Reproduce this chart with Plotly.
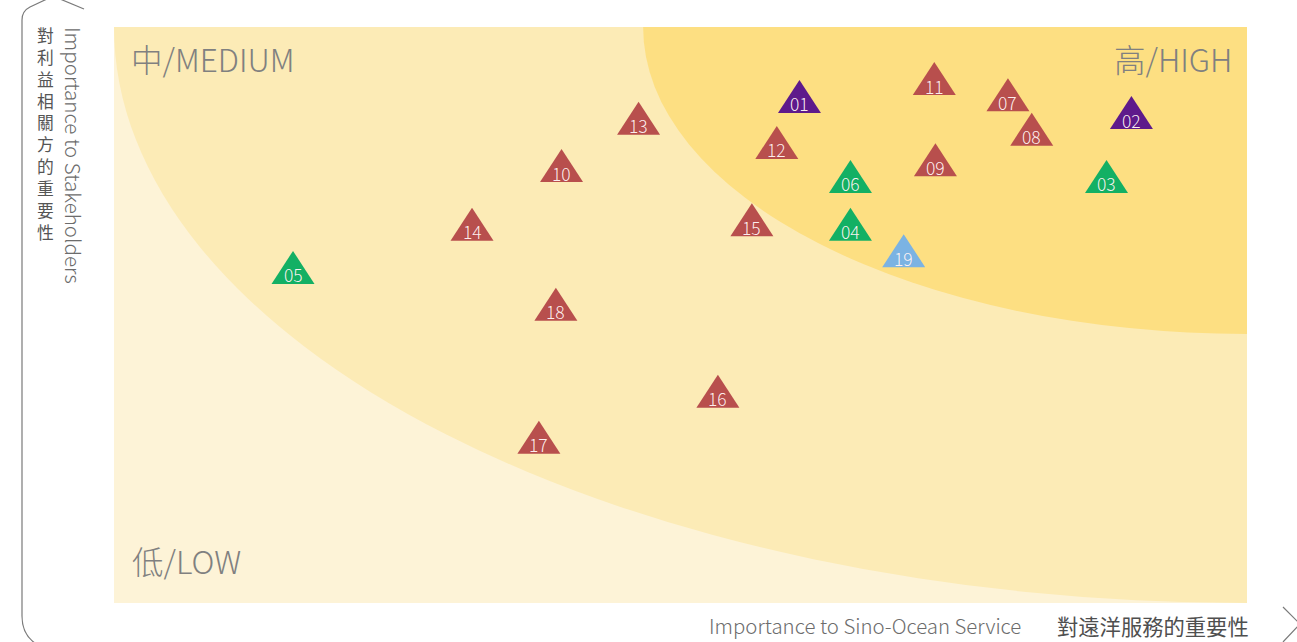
import plotly.graph_objects as go

# Materiality issues: id, importance to Sino-Ocean Service (x), importance to stakeholders (y)
issue_ids = ["01", "02", "03", "04", "05", "06", "07", "08", "09", "10",
             "11", "12", "13", "14", "15", "16", "17", "18", "19"]
service_importance = [6.05, 8.98, 8.76, 6.50, 1.58, 6.50, 7.89, 8.10, 7.25, 3.95,
                      7.24, 5.85, 4.63, 3.16, 5.63, 5.33, 3.75, 3.90, 6.97]
stakeholder_importance = [8.70, 8.42, 7.31, 6.48, 5.73, 7.31, 8.73, 8.13, 7.60, 7.50,
                          9.01, 7.90, 8.32, 6.48, 6.56, 3.58, 2.78, 5.09, 6.02]
issue_groups = ["purple", "purple", "green", "green", "green", "green", "red", "red", "red", "red",
                "red", "red", "red", "red", "red", "red", "red", "red", "blue"]

# Zone boundaries: quarter circles around the top-right corner (10, 10)
zone_names = ["高/HIGH", "中/MEDIUM", "低/LOW"]
zone_radii = [5.33, 10.0]

GROUP_COLORS = {"purple": "#5E1A8B", "green": "#13B064", "red": "#B84F4D", "blue": "#7BB3E3"}
ZONE_COLORS = {"low": "#FDF3D7", "medium": "#FCEBB6", "high": "#FDDF82"}

W, H = 1297, 642
L, R, T, B = 114, 50, 27, 39
PW, PH = W - L - R, H - T - B


def fx(px):
    return (px - L) / PW


def fy(py):
    return (H - B - py) / PH


FONT = "Noto Sans CJK SC, Noto Sans, sans-serif"
fig = go.Figure()

shapes = []
# medium and high zones, clipped by the plot area
for r, key in zip([zone_radii[1], zone_radii[0]], ["medium", "high"]):
    shapes.append(dict(type="circle", xref="x", yref="y",
                       x0=10 - r, x1=10 + r, y0=10 - r, y1=10 + r,
                       fillcolor=ZONE_COLORS[key], line=dict(width=0), layer="below"))

# triangle markers anchored at each issue position
tri_path = "M -21.5,-11 L 21.5,-11 L 0,22 Z"
for xv, yv, g in zip(service_importance, stakeholder_importance, issue_groups):
    shapes.append(dict(type="path", xref="x", yref="y", xsizemode="pixel", ysizemode="pixel",
                       xanchor=xv, yanchor=yv, path=tri_path,
                       fillcolor=GROUP_COLORS[g], line=dict(width=0), layer="below"))

# axis bracket with arrow heads
line_style = dict(color="#7a7a7a", width=1.2)


def pt(px, py):
    return f"{fx(px):.5f},{fy(py):.5f}"


bracket = (f"M {pt(47, -1)} L {pt(30, 7)} Q {pt(22, 11)} {pt(22, 20)} "
           f"L {pt(22, 616)} Q {pt(22, 636)} {pt(38, 645)} L {pt(1280, 645)}")
shapes.append(dict(type="path", xref="paper", yref="paper", path=bracket, line=line_style))
shapes.append(dict(type="path", xref="paper", yref="paper",
                   path=f"M {pt(60, -1)} L {pt(84, 9)}", line=line_style))
shapes.append(dict(type="path", xref="paper", yref="paper",
                   path=f"M {pt(1283, 607)} L {pt(1300, 624)} L {pt(1283, 642)}", line=line_style))

annotations = []
# issue numbers centred on the triangles
for xv, yv, label in zip(service_importance, stakeholder_importance, issue_ids):
    annotations.append(dict(text=label, x=xv, y=yv, xref="x", yref="y",
                            xanchor="center", yanchor="middle", yshift=-2, showarrow=False,
                            font=dict(family=FONT, size=17.5, color="rgba(255,243,243,0.97)", weight=300)))

zone_font = dict(family=FONT, size=31.5, color="#808080", weight=300)
annotations.append(dict(text=zone_names[1], x=fx(129), y=fy(58), xref="paper", yref="paper",
                        xanchor="left", yanchor="middle", showarrow=False, font=zone_font))
annotations.append(dict(text=zone_names[0], x=fx(1234), y=fy(58), xref="paper", yref="paper",
                        xanchor="right", yanchor="middle", showarrow=False, font=zone_font))
annotations.append(dict(text=zone_names[2], x=fx(130), y=fy(560), xref="paper", yref="paper",
                        xanchor="left", yanchor="middle", showarrow=False, font=zone_font))

annotations.append(dict(text="Importance to Stakeholders", textangle=90,
                        x=fx(74), y=fy(155), xref="paper", yref="paper",
                        xanchor="center", yanchor="middle", showarrow=False,
                        font=dict(family=FONT, size=20.6, color="#6c6c6c", weight=300)))
# upright Chinese title stacked one character per line
annotations.append(dict(text="<br>".join("對利益相關方的重要性"), x=fx(45), y=fy(134),
                        xref="paper", yref="paper", xanchor="center", yanchor="middle",
                        showarrow=False, align="center",
                        font=dict(family=FONT, size=16.8, color="#555555")))

annotations.append(dict(text="Importance to Sino-Ocean Service", x=fx(1023), y=fy(625),
                        xref="paper", yref="paper", xanchor="right", yanchor="middle",
                        showarrow=False, font=dict(family=FONT, size=20.4, color="#6c6c6c", weight=300)))
annotations.append(dict(text="對遠洋服務的重要性", x=fx(1251), y=fy(625),
                        xref="paper", yref="paper", xanchor="right", yanchor="middle",
                        showarrow=False, font=dict(family=FONT, size=21.3, color="#4f4f4f")))

fig.update_layout(
    width=W, height=H,
    margin=dict(l=L, r=R, t=T, b=B, pad=0),
    paper_bgcolor="white", plot_bgcolor=ZONE_COLORS["low"],
    shapes=shapes, annotations=annotations,
    xaxis=dict(range=[0, 10], visible=False, showgrid=False, zeroline=False, fixedrange=True),
    yaxis=dict(range=[0, 10], visible=False, showgrid=False, zeroline=False, fixedrange=True),
    showlegend=False,
)

fig.write_html("out.html", config={"displayModeBar": False})
